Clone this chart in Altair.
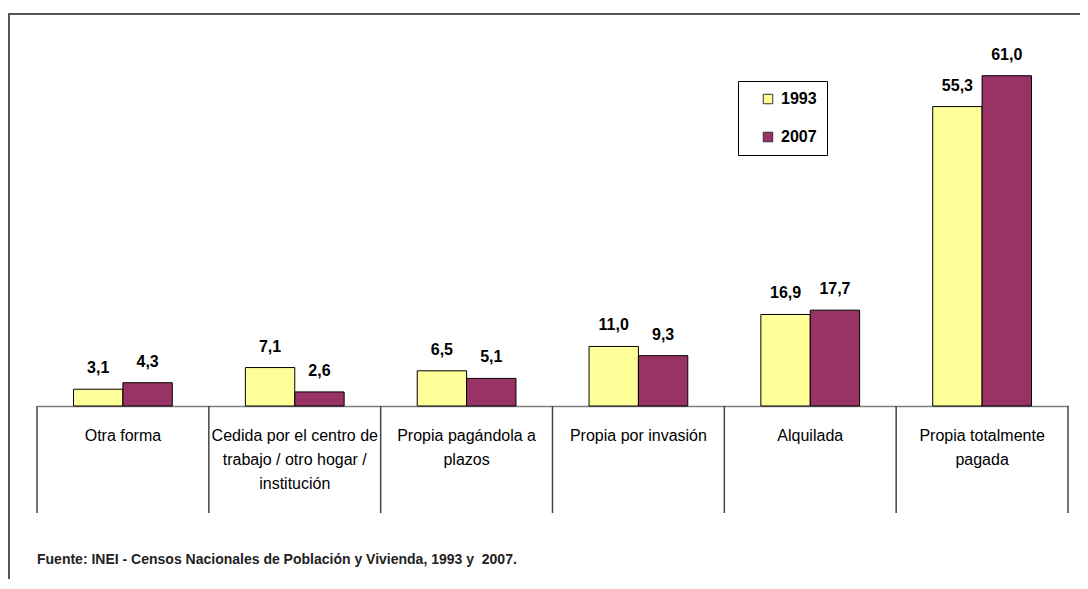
import json
import altair as alt
import pandas as pd

categories = [
    "Otra forma",
    "Cedida por el centro de trabajo / otro hogar / institución",
    "Propia pagándola a plazos",
    "Propia por invasión",
    "Alquilada",
    "Propia totalmente pagada",
]
label_lines = [
    ["Otra forma"],
    ["Cedida por el centro de", "trabajo / otro hogar /", "institución"],
    ["Propia pagándola a", "plazos"],
    ["Propia por invasión"],
    ["Alquilada"],
    ["Propia totalmente", "pagada"],
]
years = ["1993", "2007"]
values_1993 = [3.1, 7.1, 6.5, 11.0, 16.9, 55.3]
values_2007 = [4.3, 2.6, 5.1, 9.3, 17.7, 61.0]
colors = ["#FFFF99", "#993366"]
source = "Fuente: INEI - Censos Nacionales de Población y Vivienda, 1993 y\u00a0 2007."

rows = []
for c, v1, v2 in zip(categories, values_1993, values_2007):
    rows.append({"cat": c, "year": years[0], "value": v1})
    rows.append({"cat": c, "year": years[1], "value": v2})
df = pd.DataFrame(rows)
cats_df = pd.DataFrame({"cat": categories})

W, H = 1031, 379
FONT = "Liberation Sans, Arial, sans-serif"

label_map = json.dumps({c: l for c, l in zip(categories, label_lines)}, ensure_ascii=False)

xscale = alt.Scale(domain=categories, paddingInner=0, paddingOuter=0)
x_enc = alt.X(
    "cat:N",
    scale=xscale,
    sort=categories,
    axis=alt.Axis(
        title=None,
        ticks=False,
        labelAngle=0,
        labelExpr=f"{label_map}[datum.value]",
        labelFont=FONT,
        labelFontSize=16,
        labelColor="#000000",
        labelLineHeight=24,
        labelPadding=21,
        labelLimit=300,
        labelOverlap=False,
        labelBound=False,
        domainColor="#808080",
        domainWidth=1.5,
    ),
)
y_enc = alt.Y("value:Q", scale=alt.Scale(domain=[0, 70]), axis=None)
xoff = alt.XOffset("year:N", scale=alt.Scale(domain=years, paddingInner=0, paddingOuter=0.74))

bars = alt.Chart(df).mark_bar(stroke="#000000", strokeWidth=1).encode(
    x=x_enc,
    xOffset=xoff,
    y=y_enc,
    color=alt.Color(
        "year:N",
        scale=alt.Scale(domain=years, range=colors),
        legend=alt.Legend(
            title=None,
            orient="none",
            legendX=701,
            legendY=54,
            direction="vertical",
            symbolType="square",
            symbolSize=90,
            symbolOffset=12,
            symbolStrokeColor="#333333",
            symbolStrokeWidth=1,
            labelFont=FONT,
            labelFontSize=16,
            labelFontWeight="bold",
            labelColor="#000000",
            labelOffset=5,
            rowPadding=22,
            padding=10,
            strokeColor="#000000",
            fillColor="#FFFFFF",
        ),
    ),
)

labels = alt.Chart(df).transform_calculate(
    txt="replace(format(datum.value, '.1f'), '.', ',')"
).mark_text(font=FONT, fontSize=16, fontWeight="bold", baseline="middle", dy=-21, color="#000000").encode(
    x=alt.X("cat:N", sort=categories),
    xOffset=alt.XOffset("year:N"),
    y=alt.Y("value:Q"),
    text="txt:N",
)

sep = alt.Chart(cats_df).mark_rule(color="#444444", strokeWidth=1.5).encode(
    x=alt.X("cat:N", sort=categories, bandPosition=1),
    y=alt.value(H),
    y2=alt.value(H + 107),
)
sep0 = alt.Chart(cats_df).transform_filter(
    alt.datum.cat == categories[0]
).mark_rule(color="#444444", strokeWidth=1.5).encode(
    x=alt.X("cat:N", sort=categories, bandPosition=0),
    y=alt.value(H),
    y2=alt.value(H + 107),
)

frame = alt.Chart(alt.Data(values=[{}])).mark_rect(
    filled=False, stroke="#555555", strokeWidth=2
).encode(
    x=alt.value(-28), x2=alt.value(W + 60), y=alt.value(-13), y2=alt.value(H + 260)
)

footer = alt.Chart(alt.Data(values=[{"t": source}])).mark_text(
    font=FONT, fontSize=14, fontWeight="bold", color="#222222", align="left", baseline="middle"
).encode(
    text="t:N",
    x=alt.value(0),
    y=alt.value(H + 154),
)

chart = alt.layer(frame, bars, labels, sep, sep0, footer).properties(
    width=W,
    height=H,
    padding={"left": 29, "top": 19, "right": 12, "bottom": 173},
    autosize="none",
).configure_view(stroke=None)

chart.save("out.html", embed_options={"renderer": "svg", "actions": False})
